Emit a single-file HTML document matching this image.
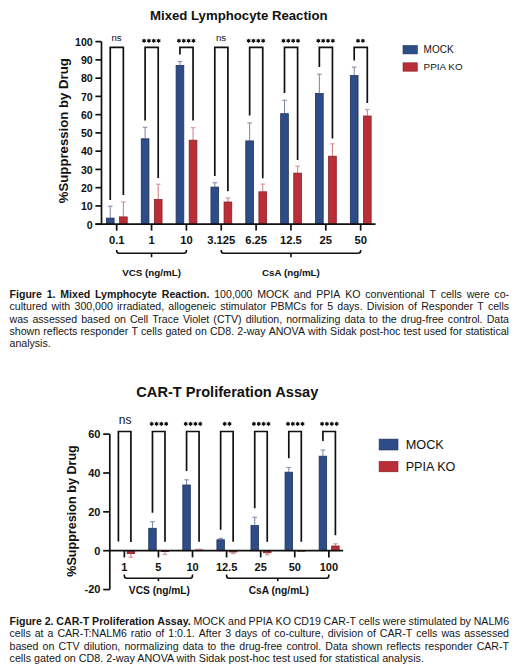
<!DOCTYPE html>
<html><head><meta charset="utf-8"><style>
html,body{margin:0;padding:0;background:#fff;}
body{width:520px;height:672px;position:relative;overflow:hidden;font-family:"Liberation Sans",sans-serif;color:#161616;}
.j,.l{position:absolute;left:9.5px;width:499.7px;white-space:nowrap;line-height:1;}
.j{display:flex;justify-content:space-between;}.j span{flex:none;}
</style></head><body>
<svg width="520" height="672" viewBox="0 0 520 672" style="position:absolute;left:0;top:0"><rect x="106.4" y="218.1" width="7.7" height="6.1" fill="#2e4c88" stroke="#1e3158" stroke-width="0.8"/><path d="M110.25 218.1V206.2" stroke="#56628a" stroke-width="0.8" fill="none"/><path d="M107.95 206.2H112.55" stroke="#8e96b4" stroke-width="1.2" fill="none"/><rect x="119.5" y="216.9" width="7.7" height="7.3" fill="#ba2f37" stroke="#862228" stroke-width="0.8"/><path d="M123.35 216.9V201.9" stroke="#b85a62" stroke-width="0.8" fill="none"/><path d="M121.05 201.9H125.65" stroke="#d99aa0" stroke-width="1.2" fill="none"/><path d="M110.25 200V47.45H123.35V195" stroke="#111" stroke-width="1.7" fill="none"/><text x="116.55" y="40.6" font-size="9.6" text-anchor="middle" font-family="Liberation Sans" fill="#111">ns</text><rect x="141.25" y="138.8" width="7.7" height="85.4" fill="#2e4c88" stroke="#1e3158" stroke-width="0.8"/><path d="M145.1 138.8V127.3" stroke="#56628a" stroke-width="0.8" fill="none"/><path d="M142.8 127.3H147.4" stroke="#8e96b4" stroke-width="1.2" fill="none"/><rect x="154.35" y="199.4" width="7.7" height="24.8" fill="#ba2f37" stroke="#862228" stroke-width="0.8"/><path d="M158.2 199.4V184.2" stroke="#b85a62" stroke-width="0.8" fill="none"/><path d="M155.9 184.2H160.5" stroke="#d99aa0" stroke-width="1.2" fill="none"/><path d="M145.1 120.6V47.45H158.2V177.9" stroke="#111" stroke-width="1.7" fill="none"/><polygon points="144.07,38.40 144.82,39.50 146.15,39.60 145.57,40.80 146.15,42.00 144.82,42.10 144.07,43.20 143.32,42.10 142.00,42.00 142.57,40.80 142.00,39.60 143.32,39.50" fill="#111"/><polygon points="148.92,38.40 149.67,39.50 151.00,39.60 150.42,40.80 151.00,42.00 149.67,42.10 148.92,43.20 148.17,42.10 146.85,42.00 147.42,40.80 146.85,39.60 148.17,39.50" fill="#111"/><polygon points="153.78,38.40 154.53,39.50 155.85,39.60 155.28,40.80 155.85,42.00 154.53,42.10 153.78,43.20 153.03,42.10 151.70,42.00 152.28,40.80 151.70,39.60 153.03,39.50" fill="#111"/><polygon points="158.62,38.40 159.38,39.50 160.70,39.60 160.12,40.80 160.70,42.00 159.38,42.10 158.62,43.20 157.88,42.10 156.55,42.00 157.12,40.80 156.55,39.60 157.88,39.50" fill="#111"/><rect x="176.1" y="65.4" width="7.7" height="158.8" fill="#2e4c88" stroke="#1e3158" stroke-width="0.8"/><path d="M179.95 65.4V61.5" stroke="#56628a" stroke-width="0.8" fill="none"/><path d="M177.65 61.5H182.25" stroke="#8e96b4" stroke-width="1.2" fill="none"/><rect x="189.2" y="140.2" width="7.7" height="84" fill="#ba2f37" stroke="#862228" stroke-width="0.8"/><path d="M193.05 140.2V127.7" stroke="#b85a62" stroke-width="0.8" fill="none"/><path d="M190.75 127.7H195.35" stroke="#d99aa0" stroke-width="1.2" fill="none"/><path d="M179.95 54.6V47.45H193.05V120.6" stroke="#111" stroke-width="1.7" fill="none"/><polygon points="178.92,38.40 179.67,39.50 181.00,39.60 180.42,40.80 181.00,42.00 179.67,42.10 178.92,43.20 178.17,42.10 176.85,42.00 177.42,40.80 176.85,39.60 178.17,39.50" fill="#111"/><polygon points="183.77,38.40 184.52,39.50 185.85,39.60 185.27,40.80 185.85,42.00 184.52,42.10 183.77,43.20 183.02,42.10 181.70,42.00 182.27,40.80 181.70,39.60 183.02,39.50" fill="#111"/><polygon points="188.62,38.40 189.38,39.50 190.70,39.60 190.12,40.80 190.70,42.00 189.38,42.10 188.62,43.20 187.88,42.10 186.55,42.00 187.12,40.80 186.55,39.60 187.88,39.50" fill="#111"/><polygon points="193.47,38.40 194.22,39.50 195.55,39.60 194.97,40.80 195.55,42.00 194.22,42.10 193.47,43.20 192.72,42.10 191.40,42.00 191.97,40.80 191.40,39.60 192.72,39.50" fill="#111"/><rect x="210.95" y="187.1" width="7.7" height="37.1" fill="#2e4c88" stroke="#1e3158" stroke-width="0.8"/><path d="M214.8 187.1V182.7" stroke="#56628a" stroke-width="0.8" fill="none"/><path d="M212.5 182.7H217.1" stroke="#8e96b4" stroke-width="1.2" fill="none"/><rect x="224.05" y="202" width="7.7" height="22.2" fill="#ba2f37" stroke="#862228" stroke-width="0.8"/><path d="M227.9 202V197.9" stroke="#b85a62" stroke-width="0.8" fill="none"/><path d="M225.6 197.9H230.2" stroke="#d99aa0" stroke-width="1.2" fill="none"/><path d="M214.8 176.1V47.45H227.9V191.3" stroke="#111" stroke-width="1.7" fill="none"/><text x="221.1" y="40.6" font-size="9.6" text-anchor="middle" font-family="Liberation Sans" fill="#111">ns</text><rect x="245.8" y="140.9" width="7.7" height="83.3" fill="#2e4c88" stroke="#1e3158" stroke-width="0.8"/><path d="M249.65 140.9V122.9" stroke="#56628a" stroke-width="0.8" fill="none"/><path d="M247.35 122.9H251.95" stroke="#8e96b4" stroke-width="1.2" fill="none"/><rect x="258.9" y="191.8" width="7.7" height="32.4" fill="#ba2f37" stroke="#862228" stroke-width="0.8"/><path d="M262.75 191.8V184.1" stroke="#b85a62" stroke-width="0.8" fill="none"/><path d="M260.45 184.1H265.05" stroke="#d99aa0" stroke-width="1.2" fill="none"/><path d="M249.65 115.6V47.45H262.75V178.2" stroke="#111" stroke-width="1.7" fill="none"/><polygon points="248.62,38.40 249.37,39.50 250.70,39.60 250.12,40.80 250.70,42.00 249.37,42.10 248.62,43.20 247.87,42.10 246.55,42.00 247.12,40.80 246.55,39.60 247.87,39.50" fill="#111"/><polygon points="253.47,38.40 254.22,39.50 255.55,39.60 254.97,40.80 255.55,42.00 254.22,42.10 253.47,43.20 252.72,42.10 251.40,42.00 251.97,40.80 251.40,39.60 252.72,39.50" fill="#111"/><polygon points="258.32,38.40 259.07,39.50 260.40,39.60 259.82,40.80 260.40,42.00 259.07,42.10 258.32,43.20 257.57,42.10 256.25,42.00 256.82,40.80 256.25,39.60 257.57,39.50" fill="#111"/><polygon points="263.17,38.40 263.92,39.50 265.25,39.60 264.67,40.80 265.25,42.00 263.92,42.10 263.17,43.20 262.42,42.10 261.10,42.00 261.67,40.80 261.10,39.60 262.42,39.50" fill="#111"/><rect x="280.65" y="113.7" width="7.7" height="110.5" fill="#2e4c88" stroke="#1e3158" stroke-width="0.8"/><path d="M284.5 113.7V100.2" stroke="#56628a" stroke-width="0.8" fill="none"/><path d="M282.2 100.2H286.8" stroke="#8e96b4" stroke-width="1.2" fill="none"/><rect x="293.75" y="173.1" width="7.7" height="51.1" fill="#ba2f37" stroke="#862228" stroke-width="0.8"/><path d="M297.6 173.1V166.2" stroke="#b85a62" stroke-width="0.8" fill="none"/><path d="M295.3 166.2H299.9" stroke="#d99aa0" stroke-width="1.2" fill="none"/><path d="M284.5 93.1V47.45H297.6V160" stroke="#111" stroke-width="1.7" fill="none"/><polygon points="283.48,38.40 284.23,39.50 285.55,39.60 284.98,40.80 285.55,42.00 284.23,42.10 283.48,43.20 282.73,42.10 281.40,42.00 281.98,40.80 281.40,39.60 282.73,39.50" fill="#111"/><polygon points="288.32,38.40 289.07,39.50 290.40,39.60 289.82,40.80 290.40,42.00 289.07,42.10 288.32,43.20 287.57,42.10 286.25,42.00 286.82,40.80 286.25,39.60 287.57,39.50" fill="#111"/><polygon points="293.18,38.40 293.93,39.50 295.25,39.60 294.68,40.80 295.25,42.00 293.93,42.10 293.18,43.20 292.43,42.10 291.10,42.00 291.68,40.80 291.10,39.60 292.43,39.50" fill="#111"/><polygon points="298.02,38.40 298.77,39.50 300.10,39.60 299.52,40.80 300.10,42.00 298.77,42.10 298.02,43.20 297.27,42.10 295.95,42.00 296.52,40.80 295.95,39.60 297.27,39.50" fill="#111"/><rect x="315.5" y="93.5" width="7.7" height="130.7" fill="#2e4c88" stroke="#1e3158" stroke-width="0.8"/><path d="M319.35 93.5V74.2" stroke="#56628a" stroke-width="0.8" fill="none"/><path d="M317.05 74.2H321.65" stroke="#8e96b4" stroke-width="1.2" fill="none"/><rect x="328.6" y="156.2" width="7.7" height="68" fill="#ba2f37" stroke="#862228" stroke-width="0.8"/><path d="M332.45 156.2V143.8" stroke="#b85a62" stroke-width="0.8" fill="none"/><path d="M330.15 143.8H334.75" stroke="#d99aa0" stroke-width="1.2" fill="none"/><path d="M319.35 66.9V47.45H332.45V138.5" stroke="#111" stroke-width="1.7" fill="none"/><polygon points="318.33,38.40 319.08,39.50 320.40,39.60 319.83,40.80 320.40,42.00 319.08,42.10 318.33,43.20 317.58,42.10 316.25,42.00 316.83,40.80 316.25,39.60 317.58,39.50" fill="#111"/><polygon points="323.18,38.40 323.93,39.50 325.25,39.60 324.68,40.80 325.25,42.00 323.93,42.10 323.18,43.20 322.43,42.10 321.10,42.00 321.68,40.80 321.10,39.60 322.43,39.50" fill="#111"/><polygon points="328.03,38.40 328.78,39.50 330.10,39.60 329.53,40.80 330.10,42.00 328.78,42.10 328.03,43.20 327.28,42.10 325.95,42.00 326.53,40.80 325.95,39.60 327.28,39.50" fill="#111"/><polygon points="332.88,38.40 333.62,39.50 334.95,39.60 334.38,40.80 334.95,42.00 333.62,42.10 332.88,43.20 332.12,42.10 330.80,42.00 331.38,40.80 330.80,39.60 332.12,39.50" fill="#111"/><rect x="350.35" y="75.6" width="7.7" height="148.6" fill="#2e4c88" stroke="#1e3158" stroke-width="0.8"/><path d="M354.2 75.6V67.1" stroke="#56628a" stroke-width="0.8" fill="none"/><path d="M351.9 67.1H356.5" stroke="#8e96b4" stroke-width="1.2" fill="none"/><rect x="363.45" y="116" width="7.7" height="108.2" fill="#ba2f37" stroke="#862228" stroke-width="0.8"/><path d="M367.3 116V109.4" stroke="#b85a62" stroke-width="0.8" fill="none"/><path d="M365 109.4H369.6" stroke="#d99aa0" stroke-width="1.2" fill="none"/><path d="M354.2 60.4V47.45H367.3V103.1" stroke="#111" stroke-width="1.7" fill="none"/><polygon points="358.02,38.40 358.77,39.50 360.10,39.60 359.52,40.80 360.10,42.00 358.77,42.10 358.02,43.20 357.27,42.10 355.95,42.00 356.52,40.80 355.95,39.60 357.27,39.50" fill="#111"/><polygon points="362.88,38.40 363.62,39.50 364.95,39.60 364.38,40.80 364.95,42.00 363.62,42.10 362.88,43.20 362.12,42.10 360.80,42.00 361.38,40.80 360.80,39.60 362.12,39.50" fill="#111"/><path d="M101.5 41.62V224.2" stroke="#111" stroke-width="1.7" fill="none"/><path d="M95.4 224.2H101.5" stroke="#111" stroke-width="1.7"/><text x="92.7" y="228.5" font-size="10.6" font-weight="bold" text-anchor="end" font-family="Liberation Sans" fill="#111">0</text><path d="M95.4 205.94H101.5" stroke="#111" stroke-width="1.7"/><text x="92.7" y="210.24" font-size="10.6" font-weight="bold" text-anchor="end" font-family="Liberation Sans" fill="#111">10</text><path d="M95.4 187.68H101.5" stroke="#111" stroke-width="1.7"/><text x="92.7" y="191.98" font-size="10.6" font-weight="bold" text-anchor="end" font-family="Liberation Sans" fill="#111">20</text><path d="M95.4 169.43H101.5" stroke="#111" stroke-width="1.7"/><text x="92.7" y="173.73" font-size="10.6" font-weight="bold" text-anchor="end" font-family="Liberation Sans" fill="#111">30</text><path d="M95.4 151.17H101.5" stroke="#111" stroke-width="1.7"/><text x="92.7" y="155.47" font-size="10.6" font-weight="bold" text-anchor="end" font-family="Liberation Sans" fill="#111">40</text><path d="M95.4 132.91H101.5" stroke="#111" stroke-width="1.7"/><text x="92.7" y="137.21" font-size="10.6" font-weight="bold" text-anchor="end" font-family="Liberation Sans" fill="#111">50</text><path d="M95.4 114.65H101.5" stroke="#111" stroke-width="1.7"/><text x="92.7" y="118.95" font-size="10.6" font-weight="bold" text-anchor="end" font-family="Liberation Sans" fill="#111">60</text><path d="M95.4 96.39H101.5" stroke="#111" stroke-width="1.7"/><text x="92.7" y="100.69" font-size="10.6" font-weight="bold" text-anchor="end" font-family="Liberation Sans" fill="#111">70</text><path d="M95.4 78.14H101.5" stroke="#111" stroke-width="1.7"/><text x="92.7" y="82.44" font-size="10.6" font-weight="bold" text-anchor="end" font-family="Liberation Sans" fill="#111">80</text><path d="M95.4 59.88H101.5" stroke="#111" stroke-width="1.7"/><text x="92.7" y="64.18" font-size="10.6" font-weight="bold" text-anchor="end" font-family="Liberation Sans" fill="#111">90</text><path d="M95.4 41.62H101.5" stroke="#111" stroke-width="1.7"/><text x="92.7" y="45.92" font-size="10.6" font-weight="bold" text-anchor="end" font-family="Liberation Sans" fill="#111">100</text><path d="M95.4 224.2H375.6" stroke="#111" stroke-width="1.7"/><path d="M116.7 224.2V230.6" stroke="#111" stroke-width="1.7"/><text x="116.7" y="243.9" font-size="11.2" font-weight="bold" text-anchor="middle" font-family="Liberation Sans" fill="#111">0.1</text><path d="M151.55 224.2V230.6" stroke="#111" stroke-width="1.7"/><text x="151.55" y="243.9" font-size="11.2" font-weight="bold" text-anchor="middle" font-family="Liberation Sans" fill="#111">1</text><path d="M186.4 224.2V230.6" stroke="#111" stroke-width="1.7"/><text x="186.4" y="243.9" font-size="11.2" font-weight="bold" text-anchor="middle" font-family="Liberation Sans" fill="#111">10</text><path d="M221.25 224.2V230.6" stroke="#111" stroke-width="1.7"/><text x="221.25" y="243.9" font-size="11.2" font-weight="bold" text-anchor="middle" font-family="Liberation Sans" fill="#111">3.125</text><path d="M256.1 224.2V230.6" stroke="#111" stroke-width="1.7"/><text x="256.1" y="243.9" font-size="11.2" font-weight="bold" text-anchor="middle" font-family="Liberation Sans" fill="#111">6.25</text><path d="M290.95 224.2V230.6" stroke="#111" stroke-width="1.7"/><text x="290.95" y="243.9" font-size="11.2" font-weight="bold" text-anchor="middle" font-family="Liberation Sans" fill="#111">12.5</text><path d="M325.8 224.2V230.6" stroke="#111" stroke-width="1.7"/><text x="325.8" y="243.9" font-size="11.2" font-weight="bold" text-anchor="middle" font-family="Liberation Sans" fill="#111">25</text><path d="M360.65 224.2V230.6" stroke="#111" stroke-width="1.7"/><text x="360.65" y="243.9" font-size="11.2" font-weight="bold" text-anchor="middle" font-family="Liberation Sans" fill="#111">50</text><path d="M116.7 249.9V250.8Q116.7 253.3 119.2 253.3H183.9Q186.4 253.3 186.4 250.8V249.9M151.55 253.3V257.3" stroke="#111" stroke-width="1.6" fill="none"/><text x="151.55" y="275.9" font-size="9.8" font-weight="bold" text-anchor="middle" font-family="Liberation Sans" fill="#111">VCS (ng/mL)</text><path d="M221.25 249.9V250.8Q221.25 253.3 223.75 253.3H358.15Q360.65 253.3 360.65 250.8V249.9M290.95 253.3V257.3" stroke="#111" stroke-width="1.6" fill="none"/><text x="290.95" y="275.9" font-size="9.8" font-weight="bold" text-anchor="middle" font-family="Liberation Sans" fill="#111">CsA (ng/mL)</text><text x="238.8" y="19.95" font-size="13.2" font-weight="bold" text-anchor="middle" font-family="Liberation Sans" fill="#111">Mixed Lymphocyte Reaction</text><text transform="translate(68.4 130.7) rotate(-90)" font-size="13.2" font-weight="bold" text-anchor="middle" font-family="Liberation Sans" fill="#111">%Suppression by Drug</text><rect x="403" y="45.5" width="14.3" height="8.4" fill="#2e4c88" stroke="#1e3158" stroke-width="0.6"/><rect x="403" y="62.8" width="14.3" height="8.4" fill="#ba2f37" stroke="#862228" stroke-width="0.6"/><text x="423.6" y="53.3" font-size="10" font-family="Liberation Sans" fill="#111">MOCK</text><text x="423.6" y="70.4" font-size="9.9" font-family="Liberation Sans" fill="#111">PPIA KO</text><rect x="127.15" y="550.7" width="7.5" height="2.9" fill="#ba2f37" stroke="#862228" stroke-width="0.8"/><path d="M130.9 553.6V557.1" stroke="#b85a62" stroke-width="0.8" fill="none"/><path d="M128.6 557.1H133.2" stroke="#d99aa0" stroke-width="1.2" fill="none"/><path d="M118.4 541.6V431.5H130.9V542" stroke="#111" stroke-width="1.7" fill="none"/><text x="125.15" y="423.7" font-size="12" text-anchor="middle" font-family="Liberation Sans" fill="#111">ns</text><rect x="148.73" y="528.3" width="7.5" height="22.4" fill="#2e4c88" stroke="#1e3158" stroke-width="0.8"/><path d="M152.48 528.3V521.7" stroke="#56628a" stroke-width="0.8" fill="none"/><path d="M150.18 521.7H154.78" stroke="#8e96b4" stroke-width="1.2" fill="none"/><rect x="161.23" y="550.7" width="7.5" height="0.9" fill="#ba2f37" stroke="#862228" stroke-width="0.8"/><path d="M164.98 551.6V554.5" stroke="#b85a62" stroke-width="0.8" fill="none"/><path d="M162.68 554.5H167.28" stroke="#d99aa0" stroke-width="1.2" fill="none"/><path d="M152.48 512.7V431.5H164.98V541.8" stroke="#111" stroke-width="1.7" fill="none"/><polygon points="151.66,421.50 152.41,422.60 153.74,422.70 153.16,423.90 153.74,425.10 152.41,425.20 151.66,426.30 150.91,425.20 149.58,425.10 150.16,423.90 149.58,422.70 150.91,422.60" fill="#111"/><polygon points="156.51,421.50 157.26,422.60 158.59,422.70 158.01,423.90 158.59,425.10 157.26,425.20 156.51,426.30 155.76,425.20 154.43,425.10 155.01,423.90 154.43,422.70 155.76,422.60" fill="#111"/><polygon points="161.36,421.50 162.11,422.60 163.44,422.70 162.86,423.90 163.44,425.10 162.11,425.20 161.36,426.30 160.61,425.20 159.28,425.10 159.86,423.90 159.28,422.70 160.61,422.60" fill="#111"/><polygon points="166.21,421.50 166.96,422.60 168.29,422.70 167.71,423.90 168.29,425.10 166.96,425.20 166.21,426.30 165.46,425.20 164.13,425.10 164.71,423.90 164.13,422.70 165.46,422.60" fill="#111"/><rect x="182.82" y="485" width="7.5" height="65.7" fill="#2e4c88" stroke="#1e3158" stroke-width="0.8"/><path d="M186.57 485V479.8" stroke="#56628a" stroke-width="0.8" fill="none"/><path d="M184.27 479.8H188.87" stroke="#8e96b4" stroke-width="1.2" fill="none"/><rect x="195.32" y="549.9" width="7.5" height="0.8" fill="#ba2f37" stroke="#862228" stroke-width="0.8"/><path d="M199.07 549.9V549.2" stroke="#b85a62" stroke-width="0.8" fill="none"/><path d="M196.77 549.2H201.37" stroke="#d99aa0" stroke-width="1.2" fill="none"/><path d="M186.57 471V431.5H199.07V541.8" stroke="#111" stroke-width="1.7" fill="none"/><polygon points="185.74,421.50 186.49,422.60 187.82,422.70 187.24,423.90 187.82,425.10 186.49,425.20 185.74,426.30 184.99,425.20 183.66,425.10 184.24,423.90 183.66,422.70 184.99,422.60" fill="#111"/><polygon points="190.59,421.50 191.34,422.60 192.67,422.70 192.09,423.90 192.67,425.10 191.34,425.20 190.59,426.30 189.84,425.20 188.51,425.10 189.09,423.90 188.51,422.70 189.84,422.60" fill="#111"/><polygon points="195.44,421.50 196.19,422.60 197.52,422.70 196.94,423.90 197.52,425.10 196.19,425.20 195.44,426.30 194.69,425.20 193.36,425.10 193.94,423.90 193.36,422.70 194.69,422.60" fill="#111"/><polygon points="200.29,421.50 201.04,422.60 202.37,422.70 201.79,423.90 202.37,425.10 201.04,425.20 200.29,426.30 199.54,425.20 198.21,425.10 198.79,423.90 198.21,422.70 199.54,422.60" fill="#111"/><rect x="216.9" y="539.8" width="7.5" height="10.9" fill="#2e4c88" stroke="#1e3158" stroke-width="0.8"/><path d="M220.65 539.8V538.4" stroke="#56628a" stroke-width="0.8" fill="none"/><path d="M218.35 538.4H222.95" stroke="#8e96b4" stroke-width="1.2" fill="none"/><rect x="229.4" y="550.7" width="7.5" height="1.3" fill="#ba2f37" stroke="#862228" stroke-width="0.8"/><path d="M233.15 552V553.6" stroke="#b85a62" stroke-width="0.8" fill="none"/><path d="M230.85 553.6H235.45" stroke="#d99aa0" stroke-width="1.2" fill="none"/><path d="M220.65 529.8V431.5H233.15V541.8" stroke="#111" stroke-width="1.7" fill="none"/><polygon points="224.67,421.50 225.42,422.60 226.75,422.70 226.17,423.90 226.75,425.10 225.42,425.20 224.67,426.30 223.92,425.20 222.60,425.10 223.17,423.90 222.60,422.70 223.92,422.60" fill="#111"/><polygon points="229.52,421.50 230.27,422.60 231.60,422.70 231.02,423.90 231.60,425.10 230.27,425.20 229.52,426.30 228.77,425.20 227.45,425.10 228.02,423.90 227.45,422.70 228.77,422.60" fill="#111"/><rect x="250.98" y="525.6" width="7.5" height="25.1" fill="#2e4c88" stroke="#1e3158" stroke-width="0.8"/><path d="M254.73 525.6V517.3" stroke="#56628a" stroke-width="0.8" fill="none"/><path d="M252.43 517.3H257.03" stroke="#8e96b4" stroke-width="1.2" fill="none"/><rect x="263.48" y="550.7" width="7.5" height="2.1" fill="#ba2f37" stroke="#862228" stroke-width="0.8"/><path d="M267.23 552.8V554.8" stroke="#b85a62" stroke-width="0.8" fill="none"/><path d="M264.93 554.8H269.53" stroke="#d99aa0" stroke-width="1.2" fill="none"/><path d="M254.73 508.3V431.5H267.23V541.8" stroke="#111" stroke-width="1.7" fill="none"/><polygon points="253.91,421.50 254.66,422.60 255.99,422.70 255.41,423.90 255.99,425.10 254.66,425.20 253.91,426.30 253.16,425.20 251.83,425.10 252.41,423.90 251.83,422.70 253.16,422.60" fill="#111"/><polygon points="258.76,421.50 259.51,422.60 260.84,422.70 260.26,423.90 260.84,425.10 259.51,425.20 258.76,426.30 258.01,425.20 256.68,425.10 257.26,423.90 256.68,422.70 258.01,422.60" fill="#111"/><polygon points="263.61,421.50 264.36,422.60 265.69,422.70 265.11,423.90 265.69,425.10 264.36,425.20 263.61,426.30 262.86,425.20 261.53,425.10 262.11,423.90 261.53,422.70 262.86,422.60" fill="#111"/><polygon points="268.46,421.50 269.21,422.60 270.54,422.70 269.96,423.90 270.54,425.10 269.21,425.20 268.46,426.30 267.71,425.20 266.38,425.10 266.96,423.90 266.38,422.70 267.71,422.60" fill="#111"/><rect x="285.06" y="472.2" width="7.5" height="78.5" fill="#2e4c88" stroke="#1e3158" stroke-width="0.8"/><path d="M288.81 472.2V467.5" stroke="#56628a" stroke-width="0.8" fill="none"/><path d="M286.51 467.5H291.12" stroke="#8e96b4" stroke-width="1.2" fill="none"/><rect x="297.56" y="550.7" width="7.5" height="0.5" fill="#ba2f37" stroke="#862228" stroke-width="0.8"/><path d="M288.81 458.3V431.5H301.31V541.8" stroke="#111" stroke-width="1.7" fill="none"/><polygon points="287.99,421.50 288.74,422.60 290.07,422.70 289.49,423.90 290.07,425.10 288.74,425.20 287.99,426.30 287.24,425.20 285.91,425.10 286.49,423.90 285.91,422.70 287.24,422.60" fill="#111"/><polygon points="292.84,421.50 293.59,422.60 294.92,422.70 294.34,423.90 294.92,425.10 293.59,425.20 292.84,426.30 292.09,425.20 290.76,425.10 291.34,423.90 290.76,422.70 292.09,422.60" fill="#111"/><polygon points="297.69,421.50 298.44,422.60 299.77,422.70 299.19,423.90 299.77,425.10 298.44,425.20 297.69,426.30 296.94,425.20 295.61,425.10 296.19,423.90 295.61,422.70 296.94,422.60" fill="#111"/><polygon points="302.54,421.50 303.29,422.60 304.62,422.70 304.04,423.90 304.62,425.10 303.29,425.20 302.54,426.30 301.79,425.20 300.46,425.10 301.04,423.90 300.46,422.70 301.79,422.60" fill="#111"/><rect x="319.15" y="456.2" width="7.5" height="94.5" fill="#2e4c88" stroke="#1e3158" stroke-width="0.8"/><path d="M322.9 456.2V450" stroke="#56628a" stroke-width="0.8" fill="none"/><path d="M320.6 450H325.2" stroke="#8e96b4" stroke-width="1.2" fill="none"/><rect x="331.65" y="546" width="7.5" height="4.7" fill="#ba2f37" stroke="#862228" stroke-width="0.8"/><path d="M335.4 546V543.8" stroke="#b85a62" stroke-width="0.8" fill="none"/><path d="M333.1 543.8H337.7" stroke="#d99aa0" stroke-width="1.2" fill="none"/><path d="M322.9 441.1V431.5H335.4V535.2" stroke="#111" stroke-width="1.7" fill="none"/><polygon points="322.07,421.50 322.82,422.60 324.15,422.70 323.57,423.90 324.15,425.10 322.82,425.20 322.07,426.30 321.32,425.20 319.99,425.10 320.57,423.90 319.99,422.70 321.32,422.60" fill="#111"/><polygon points="326.92,421.50 327.67,422.60 329.00,422.70 328.42,423.90 329.00,425.10 327.67,425.20 326.92,426.30 326.17,425.20 324.84,425.10 325.42,423.90 324.84,422.70 326.17,422.60" fill="#111"/><polygon points="331.77,421.50 332.52,422.60 333.85,422.70 333.27,423.90 333.85,425.10 332.52,425.20 331.77,426.30 331.02,425.20 329.69,425.10 330.27,423.90 329.69,422.70 331.02,422.60" fill="#111"/><polygon points="336.62,421.50 337.37,422.60 338.70,422.70 338.12,423.90 338.70,425.10 337.37,425.20 336.62,426.30 335.87,425.20 334.54,425.10 335.12,423.90 334.54,422.70 335.87,422.60" fill="#111"/><path d="M109.8 434.12V589.56" stroke="#111" stroke-width="1.7" fill="none"/><path d="M103.2 589.56H109.8" stroke="#111" stroke-width="1.7"/><text x="100.4" y="593.46" font-size="11" font-weight="bold" text-anchor="end" font-family="Liberation Sans" fill="#111">-20</text><path d="M103.2 550.7H109.8" stroke="#111" stroke-width="1.7"/><text x="100.4" y="554.6" font-size="11" font-weight="bold" text-anchor="end" font-family="Liberation Sans" fill="#111">0</text><path d="M103.2 511.84H109.8" stroke="#111" stroke-width="1.7"/><text x="100.4" y="515.74" font-size="11" font-weight="bold" text-anchor="end" font-family="Liberation Sans" fill="#111">20</text><path d="M103.2 472.98H109.8" stroke="#111" stroke-width="1.7"/><text x="100.4" y="476.88" font-size="11" font-weight="bold" text-anchor="end" font-family="Liberation Sans" fill="#111">40</text><path d="M103.2 434.12H109.8" stroke="#111" stroke-width="1.7"/><text x="100.4" y="438.02" font-size="11" font-weight="bold" text-anchor="end" font-family="Liberation Sans" fill="#111">60</text><path d="M109.8 550.7H343.2" stroke="#111" stroke-width="1.7"/><path d="M124.35 550.7V557.4" stroke="#111" stroke-width="1.7"/><text x="124.35" y="570.8" font-size="11" font-weight="bold" text-anchor="middle" font-family="Liberation Sans" fill="#111">1</text><path d="M158.43 550.7V557.4" stroke="#111" stroke-width="1.7"/><text x="158.43" y="570.8" font-size="11" font-weight="bold" text-anchor="middle" font-family="Liberation Sans" fill="#111">5</text><path d="M192.52 550.7V557.4" stroke="#111" stroke-width="1.7"/><text x="192.52" y="570.8" font-size="11" font-weight="bold" text-anchor="middle" font-family="Liberation Sans" fill="#111">10</text><path d="M226.6 550.7V557.4" stroke="#111" stroke-width="1.7"/><text x="226.6" y="570.8" font-size="11" font-weight="bold" text-anchor="middle" font-family="Liberation Sans" fill="#111">12.5</text><path d="M260.68 550.7V557.4" stroke="#111" stroke-width="1.7"/><text x="260.68" y="570.8" font-size="11" font-weight="bold" text-anchor="middle" font-family="Liberation Sans" fill="#111">25</text><path d="M294.76 550.7V557.4" stroke="#111" stroke-width="1.7"/><text x="294.76" y="570.8" font-size="11" font-weight="bold" text-anchor="middle" font-family="Liberation Sans" fill="#111">50</text><path d="M328.85 550.7V557.4" stroke="#111" stroke-width="1.7"/><text x="328.85" y="570.8" font-size="11" font-weight="bold" text-anchor="middle" font-family="Liberation Sans" fill="#111">100</text><path d="M124.35 574.4V575.8Q124.35 578.3 126.85 578.3H190.02Q192.52 578.3 192.52 575.8V574.4M158.43 578.3V581.3" stroke="#111" stroke-width="1.6" fill="none"/><text x="159.43" y="593.7" font-size="10.2" font-weight="bold" text-anchor="middle" font-family="Liberation Sans" fill="#111">VCS (ng/mL)</text><path d="M226.6 574.4V575.8Q226.6 578.3 229.1 578.3H326.35Q328.85 578.3 328.85 575.8V574.4M277.72 578.3V581.3" stroke="#111" stroke-width="1.6" fill="none"/><text x="278.72" y="593.7" font-size="10.2" font-weight="bold" text-anchor="middle" font-family="Liberation Sans" fill="#111">CsA (ng/mL)</text><text x="227.3" y="396.9" font-size="14.6" font-weight="bold" text-anchor="middle" font-family="Liberation Sans" fill="#111">CAR-T Proliferation Assay</text><text transform="translate(75.6 511) rotate(-90)" font-size="12.6" font-weight="bold" text-anchor="middle" font-family="Liberation Sans" fill="#111">%Suppresion by Drug</text><rect x="379.1" y="439.1" width="18.9" height="10.9" fill="#2e4c88" stroke="#1e3158" stroke-width="0.6"/><rect x="379.1" y="461.4" width="18.9" height="10.4" fill="#ba2f37" stroke="#862228" stroke-width="0.6"/><text x="405.7" y="449.3" font-size="12.7" font-family="Liberation Sans" fill="#111">MOCK</text><text x="405.7" y="471.4" font-size="12.6" font-family="Liberation Sans" fill="#111">PPIA KO</text></svg>
<div class="j" style="top:289.03px;font-size:10.6px"><span><b>Figure</b></span><span><b>1.</b></span><span><b>Mixed</b></span><span><b>Lymphocyte</b></span><span><b>Reaction.</b></span><span>100,000</span><span>MOCK</span><span>and</span><span>PPIA</span><span>KO</span><span>conventional</span><span>T</span><span>cells</span><span>were</span><span>co-</span></div>
<div class="j" style="top:301.03px;font-size:10.6px"><span>cultured</span><span>with</span><span>300,000</span><span>irradiated,</span><span>allogeneic</span><span>stimulator</span><span>PBMCs</span><span>for</span><span>5</span><span>days.</span><span>Division</span><span>of</span><span>Responder</span><span>T</span><span>cells</span></div>
<div class="j" style="top:314.03px;font-size:10.6px"><span>was</span><span>assessed</span><span>based</span><span>on</span><span>Cell</span><span>Trace</span><span>Violet</span><span>(CTV)</span><span>dilution,</span><span>normalizing</span><span>data</span><span>to</span><span>the</span><span>drug-free</span><span>control.</span><span>Data</span></div>
<div class="j" style="top:326.03px;font-size:10.6px"><span>shown</span><span>reflects</span><span>responder</span><span>T</span><span>cells</span><span>gated</span><span>on</span><span>CD8.</span><span>2-way</span><span>ANOVA</span><span>with</span><span>Sidak</span><span>post-hoc</span><span>test</span><span>used</span><span>for</span><span>statistical</span></div>
<div class="l" style="top:338.03px;font-size:10.6px">analysis.</div>
<div class="j" style="top:616.03px;font-size:10.6px"><span><b>Figure</b></span><span><b>2.</b></span><span><b>CAR-T</b></span><span><b>Proliferation</b></span><span><b>Assay.</b></span><span>MOCK</span><span>and</span><span>PPIA</span><span>KO</span><span>CD19</span><span>CAR-T</span><span>cells</span><span>were</span><span>stimulated</span><span>by</span><span>NALM6</span></div>
<div class="j" style="top:628.03px;font-size:10.6px"><span>cells</span><span>at</span><span>a</span><span>CAR-T:NALM6</span><span>ratio</span><span>of</span><span>1:0.1.</span><span>After</span><span>3</span><span>days</span><span>of</span><span>co-culture,</span><span>division</span><span>of</span><span>CAR-T</span><span>cells</span><span>was</span><span>assessed</span></div>
<div class="j" style="top:641.03px;font-size:10.6px"><span>based</span><span>on</span><span>CTV</span><span>dilution,</span><span>normalizing</span><span>data</span><span>to</span><span>the</span><span>drug-free</span><span>control.</span><span>Data</span><span>shown</span><span>reflects</span><span>responder</span><span>CAR-T</span></div>
<div class="l" style="top:652.9px;font-size:10.75px">cells gated on CD8. 2-way ANOVA with Sidak post-hoc test used for statistical analysis.</div>
</body></html>
